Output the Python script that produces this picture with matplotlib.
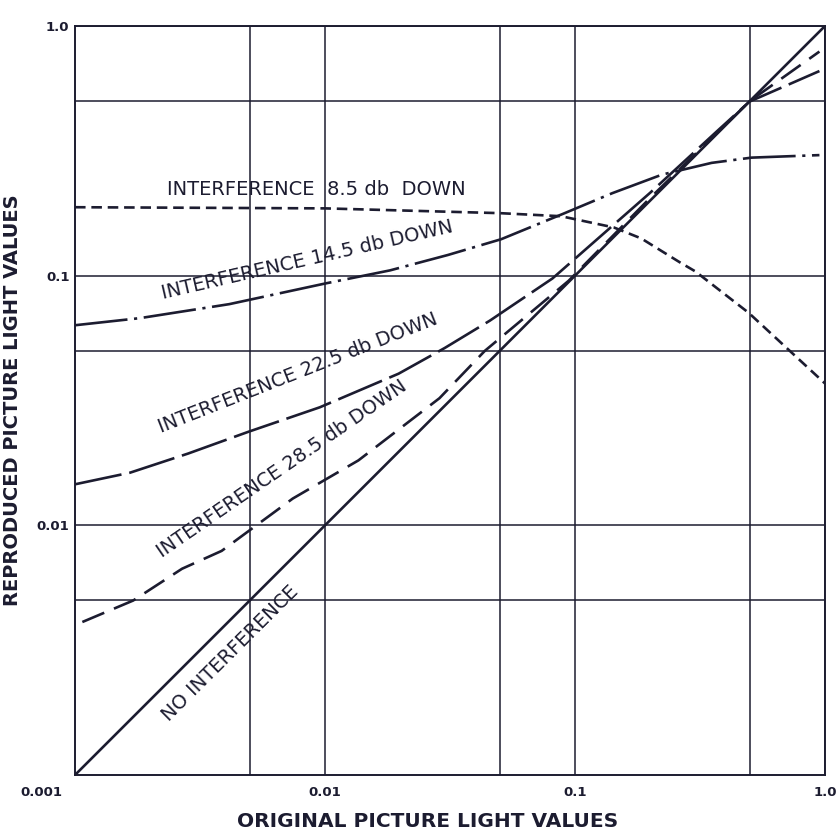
import matplotlib
matplotlib.use("Agg")
import matplotlib.pyplot as plt

# Original picture light values (x) and reproduced light values (y)
x_none = [0.001, 1.0]
y_none = [0.001, 1.0]

x_28 = [0.00107, 0.00171, 0.00268, 0.00386, 0.00743, 0.0136, 0.0287, 0.0436, 0.0942, 0.2, 0.5, 0.95]
y_28 = [0.0041, 0.0050, 0.0067, 0.0079, 0.0128, 0.0182, 0.0323, 0.050, 0.0953, 0.205, 0.5, 0.79]

x_22 = [0.001, 0.00166, 0.00284, 0.00494, 0.00953, 0.0197, 0.0301, 0.0456, 0.0813, 0.2, 0.372, 0.499, 0.95]
y_22 = [0.0146, 0.01625, 0.0194, 0.0237, 0.0297, 0.0405, 0.0513, 0.066, 0.0975, 0.215, 0.381, 0.498, 0.66]

x_14 = [0.001, 0.00182, 0.00414, 0.01, 0.0182, 0.031, 0.0507, 0.0897, 0.141, 0.223, 0.352, 0.508, 0.95]
y_14 = [0.0633, 0.0676, 0.0769, 0.093, 0.105, 0.121, 0.140, 0.177, 0.214, 0.254, 0.283, 0.297, 0.304]

x_8 = [0.001, 0.01, 0.05, 0.088, 0.143, 0.184, 0.263, 0.303, 0.495, 1.0]
y_8 = [0.188, 0.186, 0.178, 0.173, 0.156, 0.141, 0.113, 0.104, 0.071, 0.037]

major_ticks = [0.01, 0.1, 1.0]
major_labels = ["0.01", "0.1", "1.0"]
ytick_labels = ["0.01", "0.1", "1.0"]
minor_ticks = [0.005, 0.05, 0.5]

INK = "#1c1c30"
plt.rcParams["font.family"] = ["DejaVu Sans"]

fig = plt.figure(figsize=(8.36, 8.31), dpi=100)
ax = fig.add_axes([75 / 836, 56 / 831, 750 / 836, 749 / 831])
ax.set_xscale("log")
ax.set_yscale("log")
ax.set_xlim(0.001, 1.0)
ax.set_ylim(0.001, 1.0)

for s in ax.spines.values():
    s.set_color(INK)
    s.set_linewidth(1.4)

ax.set_xticks(major_ticks, labels=major_labels)
ax.set_yticks(major_ticks, labels=ytick_labels)
ax.set_xticks(minor_ticks, minor=True)
ax.set_yticks(minor_ticks, minor=True)
ax.xaxis.set_minor_formatter(matplotlib.ticker.NullFormatter())
ax.yaxis.set_minor_formatter(matplotlib.ticker.NullFormatter())
ax.tick_params(which="both", length=0, colors=INK)
ax.tick_params(axis="x", pad=8, labelsize=9.5)
ax.tick_params(axis="y", pad=4, labelsize=9.5)
for lab in ax.get_xticklabels() + ax.get_yticklabels():
    lab.set_fontweight("bold")
ax.grid(True, which="both", color=INK, linewidth=1.1)

lw = 1.9
ax.plot(x_none, y_none, color=INK, lw=lw, solid_capstyle="butt")
ax.plot(x_28, y_28, color=INK, lw=lw, dashes=(9, 4))
ax.plot(x_22, y_22, color=INK, lw=lw, dashes=(18, 3))
ax.plot(x_14, y_14, color=INK, lw=lw, dashes=(20, 2.5, 1.2, 2.5))
ax.plot(x_8, y_8, color=INK, lw=lw, dashes=(4, 2.2))

ax.text(-0.017, -0.024, "0.001", transform=ax.transAxes, ha="right", va="center",
        fontsize=9.5, fontweight="bold", color=INK)

lab_kw = dict(transform=ax.transAxes, ha="center", va="center", fontsize=14, color=INK,
              rotation_mode="anchor")
ax.text(0.322, 0.782, "INTERFERENCE  8.5 db  DOWN", rotation=0, **lab_kw)
ax.text(0.309, 0.688, "INTERFERENCE 14.5 db DOWN", rotation=13, **lab_kw)
ax.text(0.297, 0.536, "INTERFERENCE 22.5 db DOWN", rotation=21.5, **lab_kw)
ax.text(0.276, 0.409, "INTERFERENCE 28.5 db DOWN", rotation=34.5, **lab_kw)
ax.text(0.207, 0.163, "NO INTERFERENCE", rotation=44.8, **lab_kw)

ax.set_xlabel("ORIGINAL PICTURE LIGHT VALUES", fontsize=14.5, fontweight="bold", color=INK)
ax.set_ylabel("REPRODUCED PICTURE LIGHT VALUES", fontsize=14, fontweight="bold", color=INK)
ax.xaxis.set_label_coords(0.47, -0.05)
ax.yaxis.set_label_coords(-0.07, 0.5)

fig.savefig("out.png", dpi=100, facecolor="white")
